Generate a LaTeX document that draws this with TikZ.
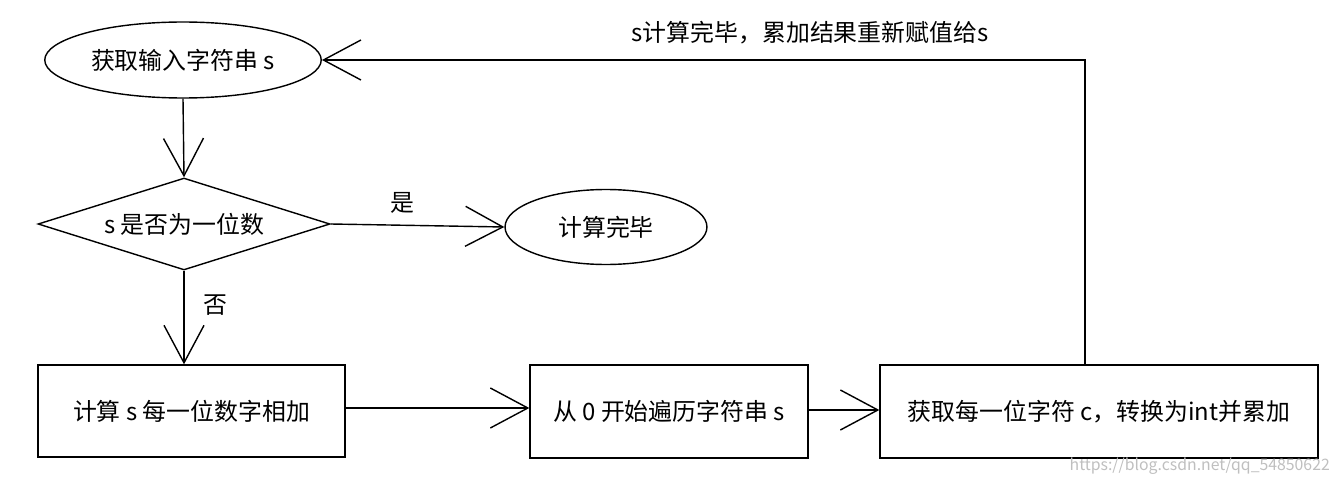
\documentclass[tikz,border=0pt]{standalone}
\usepackage{fontspec}
\setmainfont{Noto Sans CJK SC}
\usetikzlibrary{shapes.geometric,arrows.meta}
\tikzset{
  lbl/.style={font=\fontsize{13.6pt}{15pt}\selectfont},
  conn/.style={draw=black,line width=0.8pt,-{Straight Barb[length=0.75cm,width=0.8cm,line width=0.8pt]}},
  box/.style={draw,line width=0.8pt,lbl}
}
\begin{document}
\begin{tikzpicture}[x=0.02cm,y=-0.02cm]
\useasboundingbox (0,0) rectangle (1342,483);
\node[box,ellipse,minimum width=5.52cm,minimum height=1.52cm] (e1) at (183,60) {获取输入字符串 s};
\node[box,diamond,aspect=3.2,minimum width=5.84cm,minimum height=1.84cm,inner sep=0pt] (d) at (184,224) {s 是否为一位数};
\node[box,ellipse,minimum width=4.04cm,minimum height=1.5cm] (e2) at (606,227) {计算完毕};
\node[box,rectangle,minimum width=6.14cm,minimum height=1.84cm] (r1) at (191.5,411) {计算 s 每一位数字相加};
\node[box,rectangle,minimum width=5.56cm,minimum height=1.86cm] (r2) at (669,411.5) {从 0 开始遍历字符串 s};
\node[box,rectangle,minimum width=8.76cm,minimum height=1.86cm] (r3) at (1099,411.5) {获取每一位字符 c，转换为int并累加};
\coordinate (t) at (1085,60);
\draw[conn] (e1.south) -- (d.north);
\draw[conn] (d.east) -- (e2.west);
\node[lbl] (y) at (402,203) {是};
\draw[conn] (d.south) -- (r1.north -| d.south);
\node[lbl] (n) at (215,305) {否};
\draw[conn] (r1.east |- 0,408) -- (r2.west |- 0,408);
\draw[conn] (r2.east |- 0,410) -- (r3.west |- 0,410);
\draw[conn] (r3.north -| t) -- (t) -- (e1.east);
\node[lbl] (top) at (810,33) {s计算完毕，累加结果重新赋值给s};
\node[font=\fontsize{9pt}{10pt}\selectfont,text=black!25,anchor=east] (wm) at (1336,466) {https://blog.csdn.net/qq\_54850622};
\end{tikzpicture}
\end{document}
